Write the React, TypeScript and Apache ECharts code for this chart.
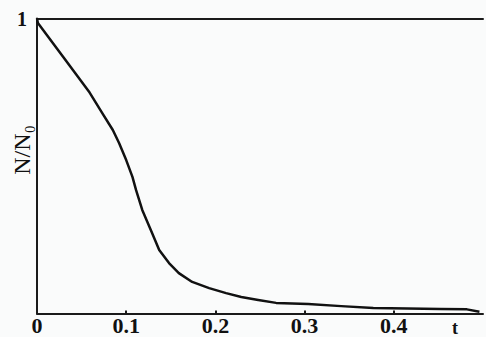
import React, { useEffect, useRef } from "react";
import * as echarts from "echarts";

const xValues = [0, 0.001, 0.029, 0.059, 0.073, 0.085, 0.092, 0.1, 0.107, 0.111, 0.118, 0.129, 0.137, 0.148, 0.159, 0.174, 0.193, 0.212, 0.229, 0.248, 0.268, 0.304, 0.341, 0.377, 0.415, 0.452, 0.482, 0.496];
const yValues = [1.0, 0.985, 0.871, 0.749, 0.68, 0.622, 0.578, 0.52, 0.463, 0.419, 0.351, 0.273, 0.215, 0.171, 0.137, 0.107, 0.086, 0.069, 0.056, 0.046, 0.036, 0.032, 0.025, 0.019, 0.017, 0.015, 0.014, 0.006];
const xTickLabels = ["0", "0.1", "0.2", "0.3", "0.4"];
const xTickMarks = [0.1, 0.2, 0.3, 0.4];
const yTickLabels = ["1"];

export default function App() {
  const ref = useRef<HTMLDivElement>(null);
  useEffect(() => {
    if (!ref.current) return;
    const chart = echarts.init(ref.current, null, { renderer: "svg" });
    const data = xValues.map((x, i) => [x, yValues[i]]);
    const font = "'Liberation Serif', 'Times New Roman', serif";
    chart.setOption({
      animation: false,
      backgroundColor: "#fafbfb",
      grid: { left: 37, right: 0, top: 18.5, bottom: 23.5 },
      xAxis: [
        {
          type: "value",
          min: 0,
          max: 0.5,
          interval: 0.1,
          axisLine: { show: true, lineStyle: { color: "#1a1a1a", width: 2 } },
          axisTick: {
            show: true,
            inside: true,
            length: 3,
            customValues: xTickMarks,
            lineStyle: { color: "#1a1a1a", width: 2 },
          },
          splitLine: { show: false },
          axisLabel: {
            margin: 1,
            fontFamily: font,
            fontWeight: "bold",
            fontSize: 22,
            color: "#111",
            formatter: (v: number) => {
              const s = xTickLabels.find((t) => Math.abs(parseFloat(t) - v) < 1e-6);
              return s ?? "";
            },
          },
        },
        {
          type: "value",
          position: "top",
          min: 0,
          max: 0.5,
          axisLine: { show: true, lineStyle: { color: "#1a1a1a", width: 2 } },
          axisTick: { show: false },
          axisLabel: { show: false },
          splitLine: { show: false },
        },
      ],
      yAxis: {
        type: "value",
        min: 0,
        max: 1,
        interval: 1,
        axisLine: { show: true, lineStyle: { color: "#1a1a1a", width: 2 } },
        axisTick: { show: false },
        splitLine: { show: false },
        axisLabel: {
          margin: 10,
          fontFamily: font,
          fontWeight: "bold",
          fontSize: 20,
          color: "#111",
          formatter: (v: number) => (yTickLabels.includes(String(v)) ? String(v) : ""),
        },
      },
      graphic: [
        {
          type: "text",
          x: 22,
          y: 150,
          rotation: Math.PI / 2,
          style: {
            text: "N/N\u2080",
            fontFamily: font,
            fontSize: 24,
            fill: "#111",
            align: "center",
            verticalAlign: "middle",
          },
        },
        {
          type: "text",
          x: 455,
          y: 319,
          style: {
            text: "t",
            fontFamily: font,
            fontWeight: "bold",
            fontSize: 18,
            fill: "#111",
            align: "center",
            verticalAlign: "top",
          },
        },
      ],
      series: [
        {
          type: "line",
          data,
          showSymbol: false,
          smooth: false,
          lineStyle: { color: "#111", width: 2.5, join: "round" },
        },
      ],
    });
    return () => chart.dispose();
  }, []);
  return (
    <div
      ref={ref}
      style={{ position: "absolute", left: 0, top: 0, width: 486, height: 337 }}
    />
  );
}
